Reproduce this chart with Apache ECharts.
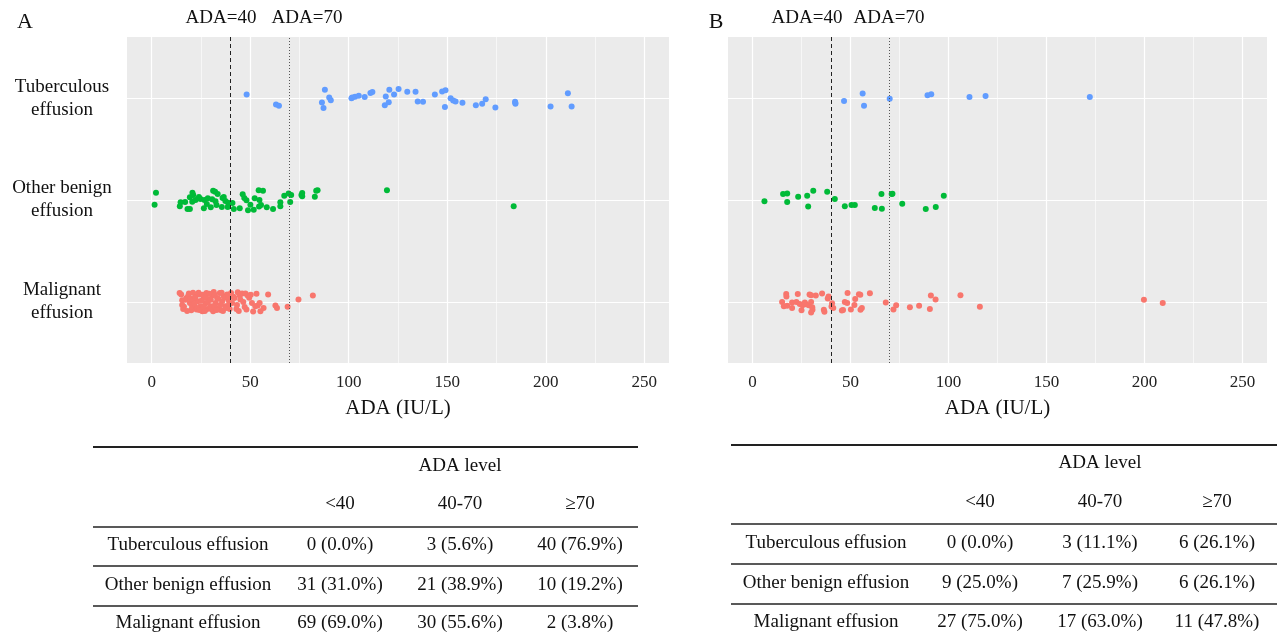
<!DOCTYPE html>
<html><head><meta charset="utf-8">
<script src="https://cdn.jsdelivr.net/npm/echarts@6/dist/echarts.min.js"></script>
<style>html,body{margin:0;padding:0;background:#fff}#c{width:1280px;height:643px}</style>
</head><body><div id="c"></div>
<script>
// Categories (bottom to top on the y axis)
const categories = ['Malignant effusion', 'Other benign effusion', 'Tuberculous effusion'];
const xTicks = [0, 50, 100, 150, 200, 250];
const minorTicks = [25, 75, 125, 175, 225];
const cutoffs = [40, 70];
const colors = ['#F8766D', '#00BA38', '#619CFF'];

// Panel A: ADA values and vertical jitter (category units, + = up)
const tbA_x = [48.2,63.1,64.6,86.4,87.9,87.2,90.1,90.9,101.4,103.2,105.1,108.1,111,112,118.8,120.6,118.3,120.3,123,125.3,129.7,133.9,135,137.7,143.7,147.4,149.1,148.8,151.7,153,154.2,157.7,164.5,167.7,169.5,174.4,184.4,184.6,202.4,211.2,213.1,101.8,184.5];
const tbA_j = [0.036,-0.062,-0.075,-0.042,0.082,-0.098,0.007,-0.02,0,0.013,0.023,0.01,0.05,0.06,0.016,0.082,-0.07,-0.04,0.036,0.09,0.062,0.062,-0.033,-0.036,0.036,0.065,0.078,-0.088,0,-0.023,-0.033,-0.046,-0.069,-0.056,-0.01,-0.092,-0.036,-0.056,-0.082,0.049,-0.082,0.005,-0.045];

const obA_x = [2.2,1.5,14.7,14.3,18.2,19.4,19.4,20.7,21.1,20.6,22.3,24.8,26.5,26.8,28.5,30.7,31.2,32.2,32.4,32.9,35.6,36.6,37.4,38.6,38.8,41,41.7,44.7,46.2,48.1,48.9,50.1,51.8,52.3,54.3,54.5,54.7,56.5,58.4,61.6,65.3,65.3,67.3,69.5,70.3,76.4,76.4,82.8,84.2,119.4,183.7,24.0,28.0,33.5,17.0,30.0,36.0,47.0,55.5,70.8,76.0,83.5];
const obA_j = [0.072,-0.046,-0.023,-0.062,-0.088,-0.088,0.026,0.072,0.049,-0.016,0,0.01,-0.082,0,0.016,0.007,0.092,0.082,-0.013,-0.049,-0.069,0.03,-0.01,-0.069,-0.026,-0.03,-0.088,-0.082,0.056,-0.003,-0.1,-0.046,-0.095,0.016,0.095,-0.065,0,0.092,-0.072,-0.088,-0.023,-0.062,0.042,0.065,-0.02,0.069,0.036,0.033,0.095,0.095,-0.062,0.03,-0.04,0.06,-0.02,-0.07,0.02,0.02,-0.05,0.05,0.05,0.09];

const meA_x = [14.2,15.0,15.5,16.4,17.7,18.9,19.4,20.1,20.6,21.4,22.3,22.8,23.4,24.5,24.8,25.7,26.5,27.3,27.8,28.2,29.0,29.9,30.7,31.2,31.5,32.4,33.2,34.1,34.6,35.3,35.8,36.6,37.4,38.3,39.1,39.6,
  16.0,17.2,18.0,18.6,19.8,20.5,21.0,21.8,22.0,23.0,23.8,24.2,25.2,26.0,26.2,27.0,27.5,28.5,29.3,30.2,30.0,31.8,32.0,33.0,33.8,34.8,35.5,36.2,37.0,37.8,38.8,39.3,15.5,
  40.3,40.8,42.0,43.0,43.7,44.7,45.0,45.9,47.6,48.1,48.7,50.9,51.5,52.6,53.8,54.8,55.2,56.8,59.1,62.8,63.6,69.0,41.5,43.3,44.2,46.5,47.2,49.5,50.3,53.2,
  74.5,81.8];
const meA_j = [0.088,0.072,0.016,-0.049,0.039,0.082,-0.01,-0.082,0.023,-0.042,0.056,-0.075,0.007,0.072,-0.042,-0.092,0.039,-0.016,0.088,-0.069,0.023,-0.042,0.062,-0.092,0.098,-0.01,0.039,-0.059,0.088,-0.082,0.007,0.056,-0.042,0.072,0.016,-0.069,
  -0.07,0.02,-0.09,0.06,0.03,-0.05,0.09,-0.02,0.04,-0.06,0.09,-0.08,0.01,0.07,-0.05,-0.09,0.05,0,0.08,-0.07,0.02,-0.04,0.07,-0.08,0.03,-0.03,0.09,-0.09,0.04,-0.06,0.05,-0.02,-0.03,
  0.088,-0.01,0.039,-0.069,0.095,0.062,0.023,0.082,0.082,-0.075,0.062,-0.01,-0.095,-0.042,-0.036,-0.01,-0.092,-0.059,0.072,-0.036,-0.059,-0.049,0.05,-0.03,-0.09,0,-0.05,0.04,0.07,0.08,
  0.023,0.062];

// Panel B
const tbB_x = [46.7,56.2,56.9,70.0,89.3,91.2,110.7,118.9,172.1];
const tbB_j = [-0.029,0.046,-0.075,-0.007,0.029,0.039,0.01,0.02,0.01];

const obB_x = [6.1,15.6,17.7,17.7,23.3,27.9,28.4,31.0,38.1,42.0,47.1,50.5,52.2,62.4,65.8,66.0,71.4,76.4,88.4,93.5,97.6,71.0];
const obB_j = [-0.013,0.059,0.065,-0.02,0.033,0.042,-0.065,0.092,0.082,0.01,-0.062,-0.049,-0.049,-0.078,0.059,-0.085,0.062,-0.036,-0.088,-0.069,0.042,0.06];

const meB_x = [15.1,17.2,17.3,16.0,17.7,20.2,20.2,22.4,23.1,24.1,25.0,25.5,26.7,27.2,29.1,29.9,28.7,29.9,30.5,30.6,29.9,32.3,35.5,36.4,36.7,38.4,38.8,
  40.3,40.6,45.6,47.1,48.3,48.5,50.2,52.4,54.3,55.1,55.8,59.9,68.0,41.2,46.2,52.0,55.0,
  71.9,73.3,80.3,85.0,90.5,91.0,93.4,106.1,116.0,199.7,209.3];
const meB_j = [0,0.078,0.052,-0.042,-0.039,-0.007,-0.059,0,0.078,-0.02,-0.082,-0.033,-0.007,-0.023,0.072,0.065,-0.033,0,-0.052,-0.078,-0.105,0.062,0.082,-0.078,-0.098,0.033,0.052,
  -0.046,-0.013,-0.085,0,-0.01,0.088,-0.075,0.029,0.075,-0.078,-0.059,0.085,-0.007,-0.06,-0.08,-0.03,0.07,
  -0.075,-0.033,-0.052,-0.039,-0.069,0.062,0.023,0.065,-0.049,0.02,-0.01];

// Tables
const tableCols = ['<40', '40-70', '\u226570'];
const tableA = [
  ['0 (0.0%)', '3 (5.6%)', '40 (76.9%)'],
  ['31 (31.0%)', '21 (38.9%)', '10 (19.2%)'],
  ['69 (69.0%)', '30 (55.6%)', '2 (3.8%)']
];
const tableB = [
  ['0 (0.0%)', '3 (11.1%)', '6 (26.1%)'],
  ['9 (25.0%)', '7 (25.9%)', '6 (26.1%)'],
  ['27 (75.0%)', '17 (63.0%)', '11 (47.8%)']
];
const tableRowNames = ['Tuberculous effusion', 'Other benign effusion', 'Malignant effusion'];

const FONT = '"Liberation Serif", "Times New Roman", serif';
const TXT = '#111';

function pts(xs, js, cat) { return xs.map((v, i) => [v, cat + js[i]]); }

const chart = echarts.init(document.getElementById('c'), null, {renderer: 'canvas'});

const grids = [
  {left: 127, top: 37, width: 542, height: 326},
  {left: 728, top: 37, width: 539, height: 326}
];

function xAxisFor(i) {
  return {
    gridIndex: i, type: 'value', min: -12.5, max: 262.5,
    axisLine: {show: false}, axisTick: {show: false}, splitLine: {show: false},
    axisLabel: {customValues: xTicks,
      fontFamily: FONT, fontSize: 17, color: '#222', margin: 11},
    name: 'ADA (IU/L)', nameLocation: 'middle', nameGap: 35,
    nameTextStyle: {fontFamily: FONT, fontSize: 21, color: TXT}
  };
}
function yAxisFor(i) {
  return {
    gridIndex: i, type: 'value', min: 0.4, max: 3.6,
    axisLine: {show: false}, axisTick: {show: false}, splitLine: {show: false},
    axisLabel: {show: i === 0, customValues: [1, 2, 3], align: 'center', margin: 65,
      fontFamily: FONT, fontSize: 19, lineHeight: 23, color: TXT,
      formatter: v => { const n = categories[Math.round(v) - 1]; return n ? n.replace(' effusion', '\neffusion') : ''; }}
  };
}

function gridLineSeries(i) {
  const d = [];
  xTicks.forEach(v => d.push({xAxis: v, lineStyle: {color: '#fff', width: 1.2, type: 'solid'}}));
  minorTicks.forEach(v => d.push({xAxis: v, lineStyle: {color: '#fff', width: 0.6, type: 'solid'}}));
  [1, 2, 3].forEach(v => d.push({yAxis: v, lineStyle: {color: '#fff', width: 1.2, type: 'solid'}}));
  return {type: 'scatter', xAxisIndex: i, yAxisIndex: i, data: [], z: 1, silent: true,
    markLine: {silent: true, z: 1, zlevel: 0, symbol: ['none', 'none'], label: {show: false}, animation: false, data: d}};
}
function refLineSeries(i) {
  return {type: 'scatter', xAxisIndex: i, yAxisIndex: i, data: [], z: 6, silent: true,
    markLine: {silent: true, z: 6, symbol: ['none', 'none'], label: {show: false}, animation: false,
      data: [
        {xAxis: cutoffs[0], lineStyle: {color: '#222', width: 1, type: [4, 3]}},
        {xAxis: cutoffs[1], lineStyle: {color: '#555', width: 1, type: [1, 2]}}
      ]}};
}
function pointSeries(i, data, color) {
  return {type: 'scatter', xAxisIndex: i, yAxisIndex: i, data, symbolSize: 6, z: 3,
    itemStyle: {color, opacity: 1}, animation: false};
}

const series = [
  gridLineSeries(0), gridLineSeries(1),
  pointSeries(0, pts(tbA_x, tbA_j, 3), colors[2]),
  pointSeries(0, pts(obA_x, obA_j, 2), colors[1]),
  pointSeries(0, pts(meA_x, meA_j, 1), colors[0]),
  pointSeries(1, pts(tbB_x, tbB_j, 3), colors[2]),
  pointSeries(1, pts(obB_x, obB_j, 2), colors[1]),
  pointSeries(1, pts(meB_x, meB_j, 1), colors[0]),
  refLineSeries(0), refLineSeries(1)
];

function txt(text, x, y, size, align) {
  return {type: 'text', x, y, silent: true,
    style: {text, fontFamily: FONT, fontSize: size || 18, fill: TXT, align: align || 'center', verticalAlign: 'middle'}};
}
function hline(x1, x2, y, w) {
  return {type: 'line', silent: true, shape: {x1, y1: y, x2, y2: y}, style: {stroke: '#222', lineWidth: w || 1.6}};
}
function table(tbl, L) {
  const els = [];
  L.lines.forEach((y, k) => els.push(hline(L.x1, L.x2, y, k === 0 ? 2 : 1.6)));
  els.push(txt('ADA level', L.cols[1], L.levelY, 19));
  tableCols.forEach((c, k) => els.push(txt(c, L.cols[k], L.headY, 19)));
  tbl.forEach((row, r) => {
    els.push(txt(tableRowNames[r], L.labelX, L.rowY[r], 19));
    row.forEach((c, k) => els.push(txt(c, L.cols[k], L.rowY[r], 19)));
  });
  return els;
}

const graphic = [
  txt('A', 25, 22, 22), txt('B', 716, 22, 22),
  txt('ADA=40', 221, 18, 19), txt('ADA=70', 307, 18, 19),
  txt('ADA=40', 807, 18, 19), txt('ADA=70', 889, 18, 19)
].concat(
  table(tableA, {x1: 93, x2: 638, lines: [447, 527, 566, 606], levelY: 466, headY: 504,
    cols: [340, 460, 580], labelX: 188, rowY: [545, 585, 623]}),
  table(tableB, {x1: 731, x2: 1277, lines: [445, 524, 564, 604], levelY: 463, headY: 502,
    cols: [980, 1100, 1217], labelX: 826, rowY: [543, 583, 622]})
);

chart.setOption({
  animation: false,
  backgroundColor: '#fff',
  grid: grids.map(g => Object.assign({show: true, backgroundColor: '#EBEBEB', borderWidth: 0, containLabel: false}, g)),
  xAxis: [xAxisFor(0), xAxisFor(1)],
  yAxis: [yAxisFor(0), yAxisFor(1)],
  series,
  graphic
});
</script>
</body></html>
